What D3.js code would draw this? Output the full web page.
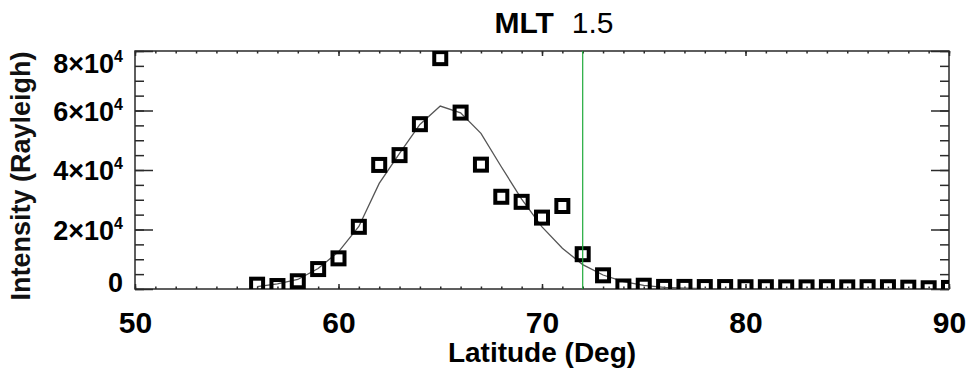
<!DOCTYPE html>
<html>
<head>
<meta charset="utf-8">
<script src="https://cdn.jsdelivr.net/npm/d3@7"></script>
<style>
  body { margin: 0; background: #fff; }
  text { font-family: "Liberation Sans", Arial, sans-serif; }
</style>
</head>
<body>
<svg id="chart" width="970" height="375"></svg>
<script>
// latitude bins (deg)
const latitudes = [56, 57, 58, 59, 60, 61, 62, 63, 64, 65, 66, 67, 68, 69, 70, 71, 72, 73,
  74, 75, 76, 77, 78, 79, 80, 81, 82, 83, 84, 85, 86, 87, 88, 89, 90];
// measured intensity (Rayleigh)
const intensity = [1450, 1000, 2600, 6700, 10300, 20900, 41700, 45000, 55400, 77600, 59300, 41800,
  31000, 29300, 24000, 27900, 11700, 4600, 850, 1100, 700, 700, 650, 650, 600, 600, 550, 550,
  600, 550, 600, 600, 450, 250, 350];
// gaussian fit, read at each latitude
const fit = [800, 1700, 3200, 6900, 12500, 21000, 35500, 45600, 55300, 61500, 59200, 52300,
  41100, 30200, 20900, 13700, 8200, 4700, 2500, 1200, 550, 250, 100, 50, 20, 10, 10, 10,
  10, 10, 10, 10, 10, 10, 10];
const boundaryLat = 72;
const xTicks = [50, 60, 70, 80, 90];
const yTicks = [0, 20000, 40000, 60000, 80000];
const title = "MLT";
const mltValue = "1.5";

const width = 970, height = 375;
const margin = { top: 51, right: 21, bottom: 86, left: 135 };
const iw = width - margin.left - margin.right;
const ih = height - margin.top - margin.bottom;

const svg = d3.select("#chart");
svg.append("rect").attr("width", width).attr("height", height).attr("fill", "#fff");

const x = d3.scaleLinear().domain([50, 90]).range([0, iw]);
const y = d3.scaleLinear().domain([0, 80000]).range([ih, 0]);

const g = svg.append("g").attr("transform", `translate(${margin.left},${margin.top})`);

svg.append("defs").append("clipPath").attr("id", "plotclip")
  .append("rect").attr("width", iw).attr("height", ih);

const axisColor = "#2a2a2a";
const styleAxis = (sel) => {
  sel.select(".domain").remove();
  sel.selectAll(".tick line").attr("stroke", axisColor).attr("stroke-width", 1.5);
};

// minor / major ticks on all four sides
const xMinor = d3.range(50, 91);
const yMinor = d3.range(0, 80001, 5000);

g.append("g").attr("transform", `translate(0,${ih})`)
  .call(d3.axisBottom(x).tickValues(xMinor).tickSize(-2.5).tickFormat(""))
  .call(styleAxis);
g.append("g")
  .call(d3.axisTop(x).tickValues(xMinor).tickSize(-2.5).tickFormat(""))
  .call(styleAxis);
g.append("g")
  .call(d3.axisTop(x).tickValues(xTicks).tickSize(-5).tickFormat(""))
  .call(styleAxis);

const xAxis = g.append("g").attr("transform", `translate(0,${ih})`)
  .call(d3.axisBottom(x).tickValues(xTicks).tickSize(-5).tickPadding(23).tickFormat(d3.format("d")))
  .call(styleAxis);
xAxis.selectAll(".tick text")
  .attr("fill", "#000")
  .attr("font-size", 30)
  .attr("font-weight", "bold");

g.append("g")
  .call(d3.axisLeft(y).tickValues(yMinor).tickSize(-9).tickFormat(""))
  .call(styleAxis);
g.append("g").attr("transform", `translate(${iw},0)`)
  .call(d3.axisRight(y).tickValues(yMinor).tickSize(-9).tickFormat(""))
  .call(styleAxis);
g.append("g").attr("transform", `translate(${iw},0)`)
  .call(d3.axisRight(y).tickValues(yTicks).tickSize(-18).tickFormat(""))
  .call(styleAxis);

const yAxis = g.append("g")
  .call(d3.axisLeft(y).tickValues(yTicks).tickSize(-18).tickPadding(12).tickFormat(""))
  .call(styleAxis);
yAxis.selectAll(".tick text").each(function (d) {
  const t = d3.select(this);
  const pos = y(d);
  // keep end labels inside the axis span
  const shift = Math.min(Math.max(pos, 12), ih - 7) - pos;
  t.attr("dy", null).attr("y", shift + 9.5)
    .attr("fill", "#000").attr("font-size", 27).attr("font-weight", "bold")
    .text(null);
  if (d === 0) {
    t.text("0");
  } else {
    t.append("tspan").text(`${d / 10000}\u00d710`);
    t.append("tspan").attr("dy", -11).attr("font-size", 16).text("4");
  }
});

// frame
g.append("rect").attr("width", iw).attr("height", ih)
  .attr("fill", "none").attr("stroke", axisColor).attr("stroke-width", 1.5);

const plot = g.append("g").attr("clip-path", "url(#plotclip)");

// fit curve
const line = d3.line().x((d, i) => x(latitudes[i])).y(d => y(d));
plot.append("path").datum(fit)
  .attr("d", line)
  .attr("fill", "none")
  .attr("stroke", "#555")
  .attr("stroke-width", 1.3);

// measurements
const s = 12;
plot.selectAll("rect.pt").data(intensity).enter()
  .append("rect").attr("class", "pt")
  .attr("x", (d, i) => x(latitudes[i]) - s / 2)
  .attr("y", d => y(d) - s / 2)
  .attr("width", s).attr("height", s)
  .attr("fill", "none")
  .attr("stroke", "#000")
  .attr("stroke-width", 4);

// boundary line
plot.append("line")
  .attr("x1", x(boundaryLat)).attr("x2", x(boundaryLat))
  .attr("y1", 0).attr("y2", ih)
  .attr("stroke", "#1faa3a").attr("stroke-width", 1.2);

// titles
const tt = svg.append("text")
  .attr("x", 554).attr("y", 33)
  .attr("text-anchor", "middle")
  .attr("font-size", 30)
  .attr("fill", "#000");
tt.append("tspan").attr("font-weight", "900").text(title);
tt.append("tspan").attr("dx", 18).text(mltValue);

svg.append("text")
  .attr("x", margin.left + iw / 2).attr("y", 362)
  .attr("text-anchor", "middle")
  .attr("font-size", 28).attr("font-weight", "bold").attr("fill", "#000")
  .text("Latitude (Deg)");

svg.append("text")
  .attr("transform", `translate(30,${margin.top + ih / 2 + 6}) rotate(-90)`)
  .attr("text-anchor", "middle")
  .attr("font-size", 27).attr("font-weight", "bold").attr("fill", "#111")
  .text("Intensity (Rayleigh)");
</script>
</body>
</html>
